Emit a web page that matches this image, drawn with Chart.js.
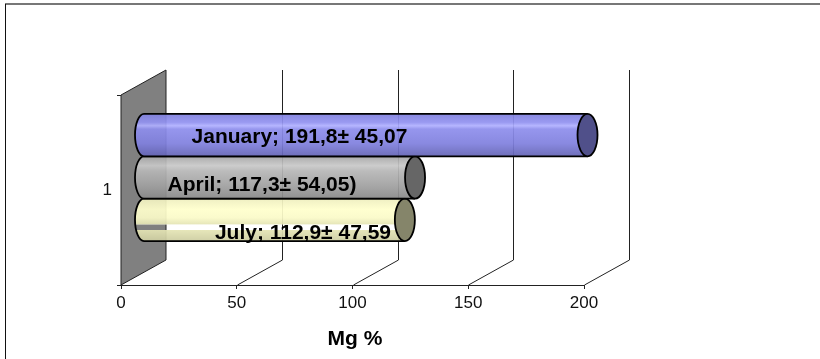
<!DOCTYPE html>
<html lang="en">
<head>
    <meta charset="UTF-8">
    <title>Mg %</title>
    <script src="https://cdn.jsdelivr.net/npm/chart.js"></script>
    <style>
        html, body { margin: 0; background: #fff; overflow: hidden; }
        canvas { display: block; }
    </style>
</head>
<body>
    <canvas id="mgChart" width="820" height="359"></canvas>
    <script>
        const categories = ['1'];
        const seriesNames = ['January', 'April', 'July'];
        const januaryValues = [191.8];
        const aprilValues = [117.3];
        const julyValues = [112.9];
        const barLabels = ['January; 191,8\u00b1 45,07', 'April; 117,3\u00b1 54,05)', 'July; 112,9\u00b1 47,59'];
        const axisTitle = 'Mg %';

        // look of the fake 3D cylinders, stops are [position, colour]
        const DEPTH_X = 45, DEPTH_Y = 25;
        const CAT_PCT = 0.67;
        const stripes = [
            [[0, 'rgba(128,128,222,.93)'], [.2, 'rgba(146,146,240,.93)'], [.28, 'rgba(176,176,255,.93)'], [.36, 'rgba(142,142,236,.93)'], [.7, 'rgba(128,128,222,.93)'], [1, 'rgba(100,100,180,.93)']],
            [[0, 'rgba(165,165,165,.93)'], [.22, 'rgba(200,200,200,.93)'], [.35, 'rgba(182,182,182,.93)'], [.7, 'rgba(160,160,160,.93)'], [1, 'rgba(136,136,136,.93)']],
            [[0, 'rgba(238,238,190,.93)'], [.25, 'rgba(255,255,204,.93)'], [.45, 'rgba(250,250,200,.93)'], [.6, 'rgba(228,228,180,.93)'], [.62, 'rgba(255,255,255,0)'], [.73, 'rgba(255,255,255,0)'], [.74, 'rgba(228,228,180,.93)'], [1, 'rgba(204,204,160,.93)']]
        ];
        const capColors = ['#50508a', '#666666', '#85856a'];
        // where each label sits: centre on the value axis, drop below the bar centre
        const labelAt = [77.1, 60.9, 78.6];
        const labelDrop = [2, 8, 13];

        function barGradient(c) {
            const i = c.datasetIndex;
            const y = c.chart.scales.y;
            const a = c.chart.chartArea;
            if (!y || !a) return '#888';
            const thick = (a.bottom - a.top) * CAT_PCT / 3;
            const mid = (a.top + a.bottom) / 2 + (i - 1) * thick;
            const g = c.chart.ctx.createLinearGradient(0, mid - thick / 2, 0, mid + thick / 2);
            stripes[i].forEach(s => g.addColorStop(s[0], s[1]));
            return g;
        }

        const depthPlugin = {
            id: 'depth',
            beforeDatasetsDraw(chart) {
                const ctx = chart.ctx, x = chart.scales.x, a = chart.chartArea;
                ctx.save();
                // wall
                ctx.beginPath();
                ctx.moveTo(a.left, a.bottom);
                ctx.lineTo(a.left + DEPTH_X, a.bottom - DEPTH_Y);
                ctx.lineTo(a.left + DEPTH_X, a.top - DEPTH_Y);
                ctx.lineTo(a.left, a.top);
                ctx.closePath();
                ctx.fillStyle = '#808080';
                ctx.fill();
                ctx.strokeStyle = '#222';
                ctx.lineWidth = 1;
                ctx.stroke();
                // gridlines on floor and back
                x.ticks.forEach(t => {
                    if (t.value === 0) return;
                    const px = Math.round(x.getPixelForValue(t.value)) + 0.5;
                    ctx.beginPath();
                    ctx.moveTo(px, a.bottom);
                    ctx.lineTo(px + DEPTH_X, a.bottom - DEPTH_Y);
                    ctx.lineTo(px + DEPTH_X, a.top - DEPTH_Y);
                    ctx.stroke();
                });
                ctx.restore();
            },
            beforeDatasetDraw(chart) {
                chart.ctx.save();
                chart.ctx.translate(DEPTH_X / 2, -DEPTH_Y / 2);
            },
            afterDatasetDraw(chart, args) {
                const ctx = chart.ctx;
                const bar = args.meta.data[0];
                const t = bar.y - bar.height / 2, b = bar.y + bar.height / 2;
                const ry = bar.height / 2;
                // rounded start of the cylinder
                ctx.beginPath();
                ctx.ellipse(bar.base, bar.y, 9, ry, 0, Math.PI / 2, Math.PI * 1.5);
                ctx.fillStyle = bar.options.backgroundColor;
                ctx.fill();
                ctx.beginPath();
                ctx.ellipse(bar.base, bar.y, 9, ry, 0, Math.PI / 2, Math.PI * 1.5);
                ctx.lineTo(bar.x, t);
                ctx.moveTo(bar.base, b);
                ctx.lineTo(bar.x, b);
                ctx.strokeStyle = '#000';
                ctx.lineWidth = 1.8;
                ctx.stroke();
                // end cap
                ctx.beginPath();
                ctx.ellipse(bar.x, bar.y, 10, ry, 0, 0, Math.PI * 2);
                ctx.fillStyle = capColors[args.index];
                ctx.fill();
                ctx.stroke();
                ctx.restore();
            },
            afterDatasetsDraw(chart) {
                const ctx = chart.ctx, x = chart.scales.x;
                ctx.save();
                ctx.fillStyle = '#000';
                ctx.textAlign = 'center';
                ctx.textBaseline = 'middle';
                ctx.font = 'bold 21px "Liberation Sans"';
                barLabels.forEach((txt, i) => {
                    const bar = chart.getDatasetMeta(i).data[0];
                    ctx.fillText(txt, x.getPixelForValue(labelAt[i]), bar.y - DEPTH_Y / 2 + labelDrop[i]);
                });
                ctx.fillText(axisTitle, 355, 339);
                // frame, top and left only
                ctx.fillStyle = '#777';
                ctx.fillRect(5, 3, 815, 2);
                ctx.fillStyle = '#111';
                ctx.fillRect(5, 4, 1, 355);
                ctx.restore();
            }
        };

        new Chart(document.getElementById('mgChart'), {
            type: 'bar',
            data: {
                labels: categories,
                datasets: [
                    { label: seriesNames[0], data: januaryValues, backgroundColor: barGradient },
                    { label: seriesNames[1], data: aprilValues, backgroundColor: barGradient },
                    { label: seriesNames[2], data: julyValues, backgroundColor: barGradient }
                ]
            },
            options: {
                indexAxis: 'y',
                responsive: false,
                animation: false,
                layout: { padding: { top: 95, right: 236 } },
                datasets: { bar: { barPercentage: 1, categoryPercentage: CAT_PCT, borderWidth: 0 } },
                plugins: { legend: { display: false }, tooltip: { enabled: false } },
                scales: {
                    x: {
                        min: 0,
                        max: 200,
                        ticks: { stepSize: 50, color: '#111', font: { family: 'Liberation Sans', size: 17 }, padding: 4, maxRotation: 0 },
                        grid: { drawOnChartArea: false, tickLength: 4, tickColor: '#222' },
                        border: { color: '#222' },
                        afterFit(s) { s.height = 74; }
                    },
                    y: {
                        ticks: { color: '#111', font: { family: 'Liberation Sans', size: 17 }, padding: 5 },
                        grid: { drawOnChartArea: false, tickLength: 4, tickColor: '#222', offset: true },
                        border: { color: '#222' },
                        afterFit(s) { s.width = 121; }
                    }
                }
            },
            plugins: [depthPlugin]
        });
    </script>
</body>
</html>
